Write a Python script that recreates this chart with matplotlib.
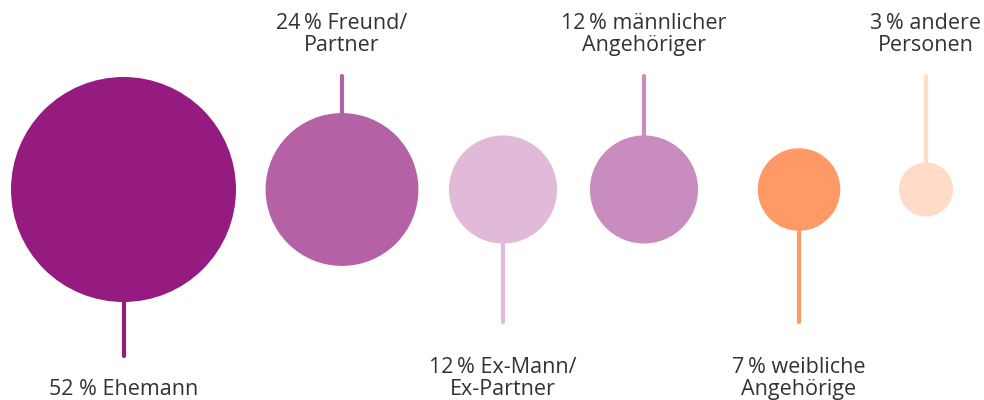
import matplotlib
matplotlib.use("Agg")
import matplotlib.pyplot as plt
from matplotlib.patches import Circle
import numpy as np

# ---- data ----
categories = ["Ehemann", "Freund/\nPartner", "Ex-Mann/\nEx-Partner",
              "männlicher\nAngehöriger", "weibliche\nAngehörige", "andere\nPersonen"]
values = [52, 24, 12, 12, 7, 3]
value_labels = ["52 % ", "24\u2009% ", "12\u2009% ", "12\u2009% ", "7\u2009% ", "3\u2009% "]

# ---- layout / style ----
colors = ["#951B81", "#B561A6", "#E0BAD8", "#C98CBF", "#FF9966", "#FFDBC8"]
x_centers = [123.5, 342, 503, 644, 799, 926]
y_center = 189.5
r_max = 112.5
label_side = ["down", "up", "down", "up", "down", "up"]
stem_top = 76
stem_bottom = [356, None, 322, None, 322, None]
text_color = "#333333"
font = ["Open Sans", "DejaVu Sans"]
fs = 15.5

fig = plt.figure(figsize=(9.84, 4.0), dpi=100)
ax = fig.add_axes([0, 0, 1, 1])
ax.set_xlim(0, 984)
ax.set_ylim(400, 0)
ax.set_aspect("equal")
ax.axis("off")

vmax = max(values)
for i, v in enumerate(values):
    r = r_max * np.sqrt(v / vmax)
    x = x_centers[i]
    if label_side[i] == "up":
        ax.plot([x, x], [stem_top, y_center - r + 1], color=colors[i], lw=3,
                solid_capstyle="round", zorder=1)
        ax.text(x, 51, value_labels[i] + categories[i], ha="center", va="baseline",
                fontsize=fs, color=text_color, family=font, linespacing=1.08)
    else:
        ax.plot([x, x], [y_center + r - 1, stem_bottom[i]], color=colors[i], lw=3,
                solid_capstyle="round", zorder=1)
        ax.text(x, 395, value_labels[i] + categories[i], ha="center", va="baseline",
                fontsize=fs, color=text_color, family=font, linespacing=1.08)
    ax.add_patch(Circle((x, y_center), r, facecolor=colors[i], edgecolor="none", zorder=2))

fig.savefig("out.png", dpi=100)
